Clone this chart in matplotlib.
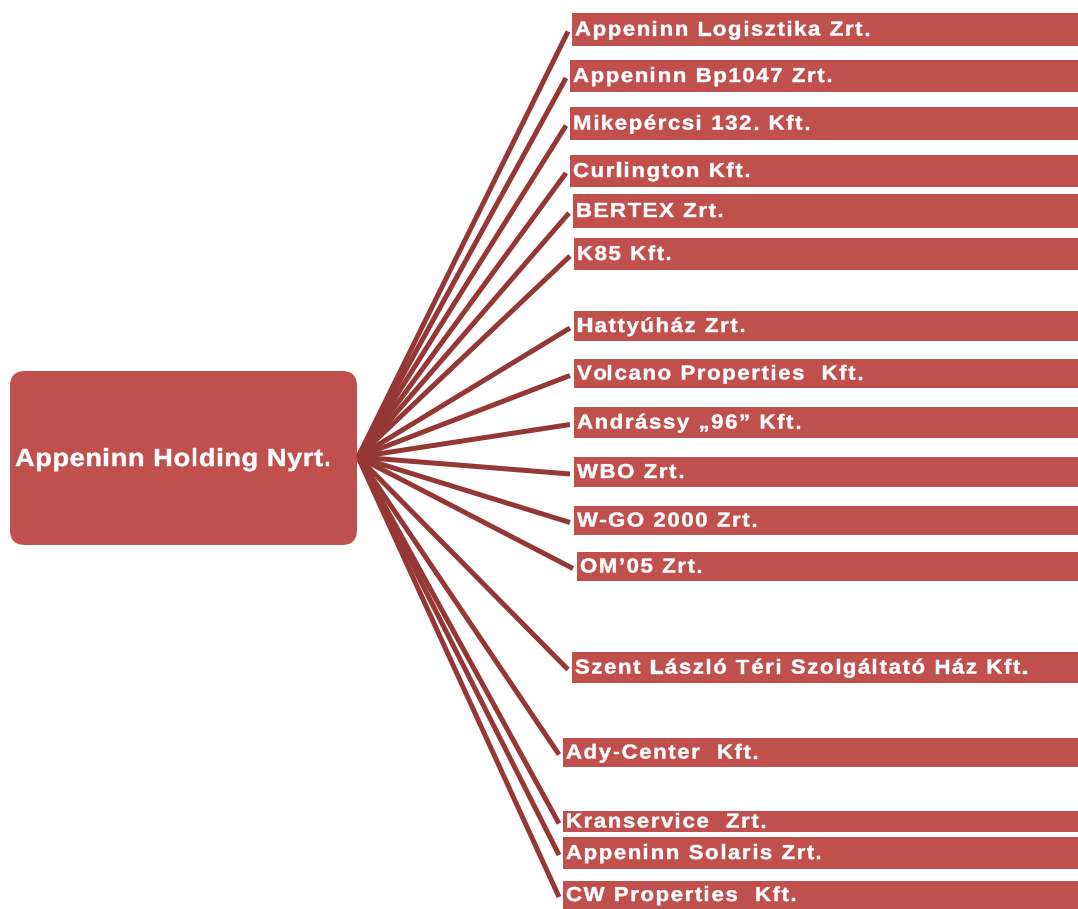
import matplotlib
matplotlib.use("Agg")
import matplotlib.pyplot as plt
from matplotlib.patches import Rectangle, FancyBboxPatch, PathPatch
from matplotlib.font_manager import FontProperties
from matplotlib.textpath import TextToPath, TextPath
from matplotlib.transforms import Affine2D

parent = "Appeninn Holding Nyrt."
subsidiaries = [
    "Appeninn Logisztika Zrt.",
    "Appeninn Bp1047 Zrt.",
    "Mikepércsi 132. Kft.",
    "Curlington Kft.",
    "BERTEX Zrt.",
    "K85 Kft.",
    "Hattyúház Zrt.",
    "Volcano Properties  Kft.",
    "Andrássy „96” Kft.",
    "WBO Zrt.",
    "W-GO 2000 Zrt.",
    "OM’05 Zrt.",
    "Szent László Téri Szolgáltató Ház Kft.",
    "Ady-Center  Kft.",
    "Kranservice  Zrt.",
    "Appeninn Solaris Zrt.",
    "CW Properties  Kft.",
]

# layout (pixels): box left, top, bottom
box_left = [572, 570, 570, 570, 573, 574, 574, 574, 574, 574, 574, 577,
            572, 563, 563, 563, 563]
box_top = [13, 60, 107, 155, 194, 238, 311, 359, 407, 457, 506, 552,
           652, 738, 811, 837, 881]
box_bot = [46, 92, 140, 187, 228, 270, 341, 388, 438, 487, 535, 581,
           683, 767, 832, 869, 909]

W, H = 1078, 909
box_c = "#C0504D"
line_c = "#953735"

fig = plt.figure(figsize=(W / 100, H / 100), dpi=100)
ax = fig.add_axes([0, 0, 1, 1])
ax.set_xlim(0, W)
ax.set_ylim(H, 0)
ax.axis("off")

t2p = TextToPath()
k = 100 / 72  # points -> pixels


def advance(s, prop):
    w1 = t2p.get_text_width_height_descent("|" + s + "|", prop, ismath=False)[0]
    w0 = t2p.get_text_width_height_descent("||", prop, ismath=False)[0]
    return (w1 - w0) * k


def spaced_text(x, y, s, size, track, sx=1.1):
    # wide, slightly stretched lettering like the source
    prop = FontProperties(family="Liberation Sans", weight="bold", size=size)
    for i, ch in enumerate(s):
        if ch == " ":
            continue
        xi = x + advance(s[:i], prop) * sx + i * track
        tp = TextPath((0, 0), ch, size=size, prop=prop)
        path = Affine2D().scale(sx * k, -k).translate(xi, y).transform_path(tp)
        ax.add_patch(PathPatch(path, facecolor="white", edgecolor="white",
                               lw=0.35, zorder=3))


hub = (358, 457)

for name, x0, t, b in zip(subsidiaries, box_left, box_top, box_bot):
    yc = (t + b) / 2
    ax.plot([hub[0], x0 - 4], [hub[1], yc + 2], color=line_c, lw=3.6,
            solid_capstyle="butt", zorder=1)
    ax.add_patch(Rectangle((x0, t), W - x0, b - t, facecolor=box_c,
                           edgecolor="none", zorder=2))
    spaced_text(x0 + 3, yc + 6, name, 14.5, 1.6)

ax.add_patch(FancyBboxPatch((10 + 15, 371 + 15), 347 - 30, 174 - 30,
                            boxstyle="round,pad=15", facecolor=box_c,
                            edgecolor="none", zorder=2))
spaced_text(15, 466, parent, 17.8, 0.6)

fig.savefig("out.png", dpi=100)
